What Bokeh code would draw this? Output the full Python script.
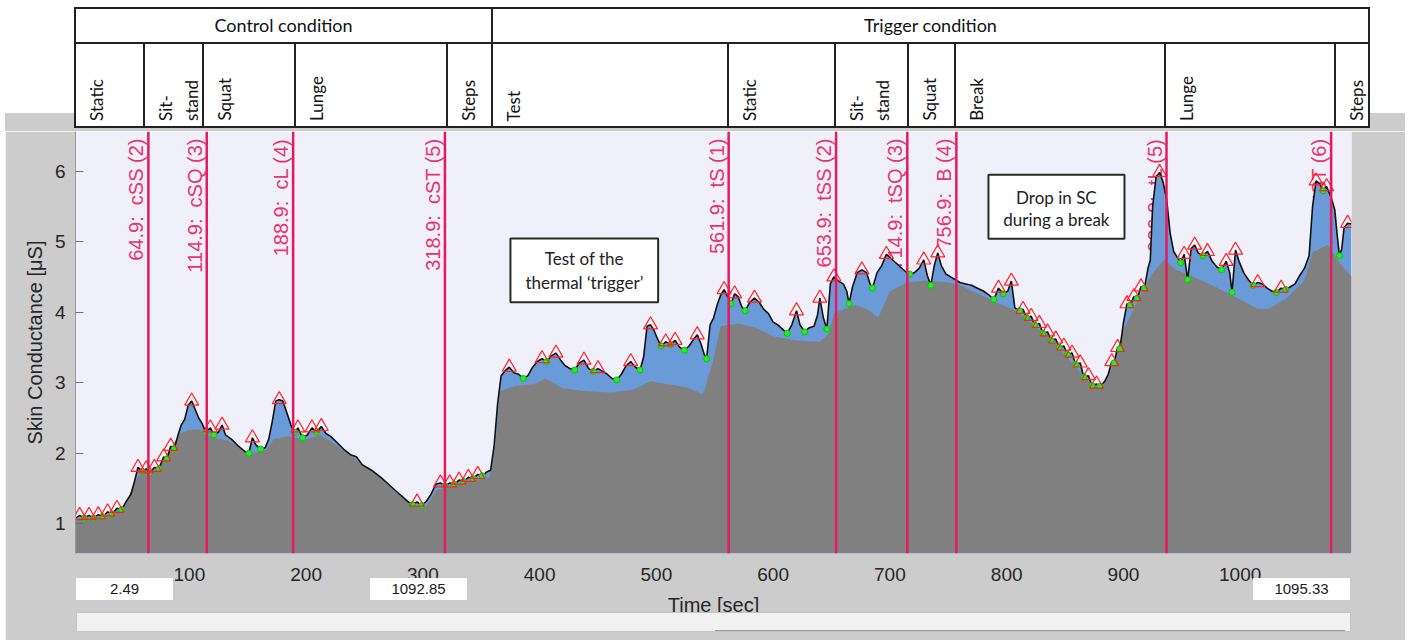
import numpy as np
from bokeh.plotting import figure
from bokeh.models import Range1d, BoxAnnotation, FixedTicker, Div
from bokeh.layouts import column
from bokeh.embed import file_html
from bokeh.resources import INLINE
from bokeh.core.properties import value

# ---------------- data ----------------
sig_t = [2.5, 6, 10, 14, 18, 22, 26, 30, 34, 38, 42, 46, 50, 53, 56, 60, 63, 66, 70, 74, 78, 81, 84, 87, 90,
         93, 96, 99, 102, 105, 108, 111, 114, 118, 121, 125, 128, 131, 136, 142, 148, 151, 154, 157, 161, 165,
         168, 171, 174, 177, 180, 183, 187, 190, 193, 197, 201, 205, 209, 213, 217, 221, 226, 232, 238, 243,
         248, 256, 264, 272, 280, 287, 291, 295, 299, 303, 307, 311, 315, 319, 323, 327, 331, 335, 339, 343,
         347, 351, 355, 358,
         361, 364, 367, 371, 374, 378, 382, 386, 390, 394, 398, 402, 406, 410, 414, 418, 422, 426, 430, 434,
         438, 442, 446, 450, 454, 458, 462, 466, 470, 474, 478, 482, 486, 489, 492, 495, 498, 501, 504, 508,
         512, 516, 520, 524, 528, 532, 535, 538, 541, 543, 546, 549, 552, 555, 558, 561, 564, 567, 570, 573,
         576, 580, 584, 588, 592, 596, 600, 604, 608, 612, 616, 620, 623, 627, 631, 635, 638, 640, 643, 646,
         649, 652, 656, 660, 663, 665, 668, 672, 676, 680, 683, 685, 689, 693, 697, 701, 705, 709, 713, 717,
         721, 725, 729, 732, 735, 738, 741, 744, 748, 752, 756, 760, 765, 770, 775, 780, 785, 789, 793, 797,
         801, 804, 807, 811, 814, 817, 821, 824, 828, 831, 835, 838, 842, 845, 849, 852, 856, 859, 863, 866,
         870, 873, 877, 880, 884, 887, 890, 892, 895, 897, 900, 903, 906, 909, 912, 915, 918, 921, 923, 925,
         928, 931, 934, 937, 940, 943, 946, 949, 952, 955, 958, 961, 964, 968, 972, 976, 980, 984, 988, 991,
         993, 996, 999, 1003, 1007, 1011, 1015, 1019, 1023, 1027, 1031, 1035, 1039, 1043, 1047, 1051, 1055,
         1059, 1062, 1065, 1068, 1071, 1074, 1078, 1081, 1083, 1085, 1087, 1089, 1092, 1095.33]
sig_v = [1.08, 1.12, 1.08, 1.12, 1.08, 1.13, 1.10, 1.17, 1.14, 1.22, 1.20, 1.32, 1.42, 1.60, 1.80, 1.74, 1.78,
         1.72, 1.80, 1.78, 1.95, 1.92, 2.10, 2.06, 2.24, 2.40, 2.48, 2.68, 2.74, 2.62, 2.50, 2.42, 2.30, 2.36,
         2.26, 2.30, 2.40, 2.26, 2.20, 2.10, 2.02, 2.00, 2.22, 2.12, 2.06, 2.08, 2.20, 2.45, 2.74, 2.76, 2.74,
         2.60, 2.40, 2.30, 2.36, 2.22, 2.26, 2.36, 2.30, 2.38, 2.28, 2.24, 2.16, 2.06, 1.98, 1.95, 1.84, 1.76,
         1.66, 1.54, 1.42, 1.32, 1.27, 1.31, 1.26, 1.32, 1.42, 1.56, 1.58, 1.54, 1.58, 1.56, 1.62, 1.60, 1.66,
         1.64, 1.70, 1.68, 1.74, 1.76,
         2.10, 2.70, 3.10, 3.18, 3.22, 3.14, 3.12, 3.06, 3.10, 3.22, 3.30, 3.34, 3.30, 3.38, 3.42, 3.32, 3.24,
         3.20, 3.18, 3.28, 3.32, 3.20, 3.16, 3.20, 3.16, 3.12, 3.06, 3.04, 3.12, 3.24, 3.30, 3.22, 3.18, 3.36,
         3.80, 3.82, 3.74, 3.62, 3.52, 3.58, 3.54, 3.60, 3.50, 3.46, 3.52, 3.62, 3.68, 3.56, 3.40, 3.34, 3.82,
         3.92, 4.10, 4.24, 4.32, 4.22, 4.12, 4.26, 4.22, 4.08, 4.02, 4.14, 4.20, 4.14, 4.04, 3.98, 3.86, 3.82,
         3.76, 3.70, 3.82, 4.02, 3.82, 3.72, 3.78, 3.80, 3.96, 4.20, 3.92, 3.76, 4.40, 4.50, 4.44, 4.40, 4.30,
         4.12, 4.36, 4.56, 4.60, 4.56, 4.40, 4.34, 4.56, 4.66, 4.82, 4.76, 4.70, 4.64, 4.58, 4.54, 4.56, 4.62,
         4.74, 4.52, 4.38, 4.66, 4.84, 4.66, 4.54, 4.50, 4.46, 4.42, 4.40, 4.38, 4.34, 4.30, 4.24, 4.18, 4.34,
         4.26, 4.30, 4.44, 4.06, 4.02, 4.04, 3.92, 3.94, 3.82, 3.84, 3.70, 3.72, 3.60, 3.62, 3.50, 3.52, 3.40,
         3.42, 3.26, 3.28, 3.08, 3.10, 2.96, 2.98, 2.95, 3.02, 3.12, 3.30, 3.28, 3.50, 3.48, 3.85, 4.12, 4.10,
         4.22, 4.20, 4.36, 4.34, 4.62, 4.74, 5.50,
         5.92, 5.98, 5.84, 5.60, 5.12, 4.86, 4.78, 4.70, 4.82, 4.46, 4.90, 4.95, 4.84, 4.80, 4.86, 4.72, 4.64,
         4.60, 4.72, 4.56, 4.28, 4.88, 4.72, 4.56, 4.46, 4.38, 4.42, 4.40, 4.34, 4.30, 4.28, 4.34, 4.32, 4.36,
         4.40, 4.52, 4.62, 4.80, 5.50, 5.86, 5.82, 5.72, 5.78, 5.62, 5.45, 5.10, 4.80, 4.90, 5.20, 5.26, 5.25]

tonic_t = [2.5, 30, 45, 52, 56, 64, 70, 78, 86, 92, 100, 108, 114, 120, 134, 144, 150, 158, 166, 172, 184,
           190, 200, 212, 222, 240, 260, 280, 292, 302, 312, 322, 340, 357, 362, 366, 380, 395, 405, 420,
           440, 460, 480, 495, 510, 525, 540, 548, 555, 570, 585, 600, 620, 640, 648, 652, 670, 680, 690,
           700, 715, 730, 750, 760, 790, 810, 840, 870, 880, 890, 900, 915, 925, 935, 945, 960, 980, 1000,
           1015, 1025, 1040, 1055, 1062, 1075, 1085, 1095.33]
tonic_v = [1.05, 1.10, 1.25, 1.55, 1.68, 1.70, 1.74, 1.92, 2.12, 2.28, 2.33, 2.34, 2.28, 2.22, 2.18, 2.06,
           1.98, 2.02, 2.05, 2.20, 2.24, 2.22, 2.20, 2.26, 2.16, 1.94, 1.70, 1.40, 1.25, 1.24, 1.48, 1.52,
           1.60, 1.66, 2.10, 2.88, 2.96, 2.98, 3.06, 2.92, 2.88, 2.86, 2.90, 3.02, 2.98, 2.94, 2.84, 3.28,
           3.80, 3.84, 3.78, 3.66, 3.60, 3.58, 3.70, 3.98, 4.10, 4.05, 3.92, 4.30, 4.42, 4.45, 4.42, 4.38,
           4.15, 4.00, 3.58, 3.02, 2.92, 3.20, 3.75, 4.25, 4.55, 4.75, 4.60, 4.50, 4.35, 4.18, 4.05, 4.05,
           4.20, 4.45, 4.85, 4.95, 4.70, 4.50]

event_t = [64.9, 114.9, 188.9, 318.9, 561.9, 653.9, 714.9, 756.9, 936.9, 1077.9]
event_code = ["cSS (2)", "cSQ (3)", "cL (4)", "cST (5)", "tS (1)", "tSS (2)", "tSQ (3)", "B (4)",
              "tL (5)", "tST (6)"]

group_names = ["Control condition", "Trigger condition"]
group_edges = [1.6, 358.5, 1109.9]
phase_names = ["Static", "Sit-\nstand", "Squat", "Lunge", "Steps",
               "Test", "Static", "Sit-\nstand", "Squat", "Break", "Lunge", "Steps"]
phase_edges = [1.6, 61.0, 111.5, 190.1, 320.3, 358.5, 561.2, 652.6, 714.8, 755.3, 935.4, 1081.0, 1109.9]

x_ticks = [100, 200, 300, 400, 500, 600, 700, 800, 900, 1000]
y_ticks = [1, 2, 3, 4, 5, 6]
x_start, x_end = 2.49, 1095.33
y_start, y_end = 0.58, 6.56
view_start, view_end = 2.49, 1092.85   # slider boxes

# ---------------- layout constants (page pixels) ----------------
PAGE_W = 1411
HEAD_H = 131
MAIN_H = 509
MARGIN_L = 5
MAIN_W = 1400
F_LEFT, F_RIGHT = 75, 1351            # plot frame, page x
PANEL = "#cccccc"
EVT = "#e61a5c"
TXT = "#262626"
scale = (F_RIGHT - F_LEFT) / (x_end - x_start)


def px(t):
    return F_LEFT + (t - x_start) * scale


# ---------------- header (table) + slider widgets as HTML ----------------
B = 2
parts = ['<div style="position:relative;width:%dpx;height:%dpx;background:#ffffff;'
         'font-family:Lato,sans-serif;color:#111;">' % (PAGE_W, HEAD_H)]
parts.append('<div style="position:absolute;left:%dpx;top:113px;width:%dpx;height:%dpx;background:%s;"></div>'
             % (MARGIN_L, MAIN_W, HEAD_H - 113, PANEL))
cell = ('<div style="position:absolute;box-sizing:border-box;left:%dpx;top:%dpx;width:%dpx;height:%dpx;'
        'border:%dpx solid #222;background:#fff;%s">%s</div>')
for i, name in enumerate(group_names):
    l, r = round(px(group_edges[i])), round(px(group_edges[i + 1]))
    parts.append(cell % (l, 7, r - l + B, 37, B,
                         "text-align:center;font-size:18px;line-height:33px;white-space:nowrap;", name))
for i, name in enumerate(phase_names):
    l, r = round(px(phase_edges[i])), round(px(phase_edges[i + 1]))
    parts.append(cell % (l, 42, r - l + B, 86, B, "", ""))
for i, name in enumerate(phase_names):
    l = round(px(phase_edges[i]))
    parts.append('<div style="position:absolute;left:%dpx;bottom:%dpx;writing-mode:vertical-rl;'
                 'transform:rotate(180deg);font-size:17px;line-height:26px;white-space:nowrap;">%s</div>'
                 % (l + 10, HEAD_H - 121, name.replace("\n", "<br>")))
# boxes with the view limits and the scroll bar (below the axis of the plot)
lefts = [76, 370, 1253]
for k, txt in enumerate([f"{view_start:.2f}", f"{view_end:.2f}", f"{x_end:.2f}"]):
    parts.append('<div style="position:absolute;left:%dpx;top:578px;width:97px;height:22px;background:#fff;'
                 'z-index:20;font-family:\'Liberation Sans\',Arial,sans-serif;font-size:15px;line-height:22px;'
                 'text-align:center;color:#1a1a1a;">%s</div>' % (lefts[k], txt))
parts.append('<div style="position:absolute;left:76px;top:612px;width:1275px;height:20px;box-sizing:border-box;'
             'background:#f1f1f1;border:1px solid #c4c4c4;z-index:20;"></div>')
parts.append('<div style="position:absolute;left:715px;top:630px;width:630px;height:1px;background:#9a9a9a;'
             'z-index:21;"></div>')
parts.append('</div>')
header = Div(text="".join(parts), width=PAGE_W, height=HEAD_H,
             styles={"overflow": "visible", "position": "relative", "z-index": "10", "margin": "0"})

# ---------------- main figure ----------------
FL = F_LEFT - MARGIN_L
FR = F_RIGHT - MARGIN_L
p = figure(width=MAIN_W, height=MAIN_H, x_range=Range1d(x_start, x_end), y_range=Range1d(y_start, y_end),
           output_backend="svg", toolbar_location=None, margin=(0, 0, 0, MARGIN_L),
           min_border_left=FL, min_border_right=MAIN_W - FR, min_border_top=0, min_border_bottom=MAIN_H - 422)
p.background_fill_color = "#f0f0fa"
p.border_fill_color = PANEL
p.outline_line_color = None
p.xgrid.visible = False
p.ygrid.visible = False

# event labels (under the data)
p.text(x=event_t, y=[y_end] * len(event_t),
       text=[f"{t:.1f}:\u00a0 {c}" for t, c in zip(event_t, event_code)],
       angle=np.pi / 2, x_offset=-1, y_offset=7, text_align="right", text_baseline="bottom",
       text_font=value("Liberation Sans"), text_font_size="20px", text_color="#e8336e")

# annotation boxes
for (l, r, t, b) in [(375.0, 501.5, 5.045, 4.139), (784.4, 900.9, 5.948, 5.041)]:
    p.add_layout(BoxAnnotation(left=l, right=r, top=t, bottom=b, fill_color="white", fill_alpha=1.0,
                               line_color="#2a2a2a", line_alpha=1.0, line_width=2, level="underlay"))
p.text(x=[438.3, 438.3, 842.6, 842.6], y=[4.754, 4.42, 5.626, 5.32],
       text=["Test of the", "thermal \u2018trigger\u2019", "Drop in SC", "during a break"],
       text_font=value("Lato"), text_font_size="17px", text_color="#222222",
       text_align="center", text_baseline="middle")

# areas and signal
sig_t_a = np.array(sig_t)
sig_v_a = np.array(sig_v)
p.varea(x=sig_t, y1=[y_start] * len(sig_t), y2=sig_v, fill_color="#6a9bd8")
p.varea(x=tonic_t, y1=[y_start] * len(tonic_t), y2=tonic_v, fill_color="#808080")
p.line(sig_t, sig_v, line_color="#111111", line_width=1.6)

inner = np.arange(1, len(sig_v_a) - 1)
pk = inner[(sig_v_a[inner] > sig_v_a[inner - 1]) & (sig_v_a[inner] >= sig_v_a[inner + 1])]
tr = inner[(sig_v_a[inner] < sig_v_a[inner - 1]) & (sig_v_a[inner] <= sig_v_a[inner + 1])]
p.scatter(sig_t_a[tr], sig_v_a[tr], marker="circle", size=6, fill_color="#22ee22", line_color="#10c010")
p.scatter(sig_t_a[pk], sig_v_a[pk], marker="triangle", size=14, fill_color=None,
          line_color="#ff2222", line_width=1.2)

# event lines
p.segment(x0=event_t, y0=[y_start] * len(event_t), x1=event_t, y1=[y_end] * len(event_t),
          line_color=EVT, line_width=2.5)

# axes
p.yaxis.ticker = FixedTicker(ticks=y_ticks)
p.xaxis.ticker = FixedTicker(ticks=x_ticks)
for ax in (p.xaxis[0], p.yaxis[0]):
    ax.major_label_text_font = "Liberation Sans"
    ax.major_label_text_font_size = "19px"
    ax.major_label_text_color = TXT
    ax.axis_label_text_font = "Liberation Sans"
    ax.axis_label_text_font_size = "20px"
    ax.axis_label_text_font_style = "normal"
    ax.axis_label_text_color = TXT
    ax.minor_tick_line_color = None
p.yaxis.axis_label = "Skin Conductance [\u03bcS]"
p.yaxis.major_tick_in = 8
p.yaxis.major_tick_out = 0
p.yaxis.major_tick_line_color = "#707070"
p.yaxis.axis_line_color = "#9a9a9a"
p.yaxis.major_label_standoff = 10
p.yaxis.axis_label_standoff = 6
p.xaxis.axis_label = "Time [sec]"
p.xaxis.major_tick_in = 0
p.xaxis.major_tick_out = 0
p.xaxis.axis_line_color = None
p.xaxis.major_label_standoff = 14
p.xaxis.axis_label_standoff = 10

layout = column(header, p, spacing=0)
open("out.html", "w").write(file_html(layout, INLINE))
